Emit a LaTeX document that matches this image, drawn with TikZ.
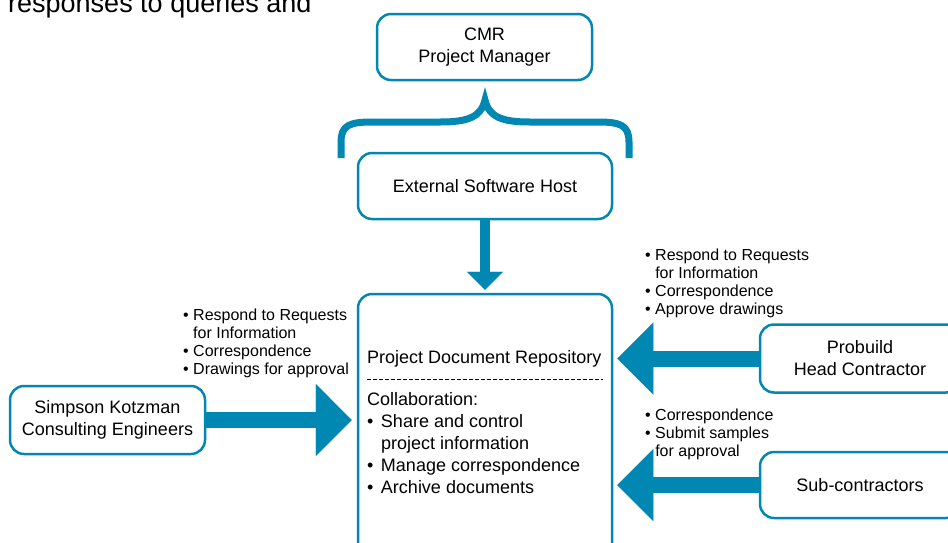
\documentclass[tikz,border=0pt]{standalone}
\usepackage{fontspec}
\setmainfont{Liberation Sans}
\usetikzlibrary{arrows.meta}
\definecolor{repoblue}{HTML}{0088B2}

\begin{document}
\begin{tikzpicture}[x=1pt, y=-1pt,
    party/.style={draw=repoblue, line width=2.5pt, rounded corners=14pt, fill=white,
      align=center, inner sep=0pt, font=\fontsize{18}{22}\selectfont},
    notes/.style={anchor=north west, align=left, inner sep=0pt, font=\fontsize{16}{18}\selectfont},
    flow/.style={draw=repoblue, line width=16pt,
      -{Triangle[length=36pt, width=72pt, line width=0.1pt]}},
    feed/.style={draw=repoblue, line width=10pt,
      -{Triangle[length=18pt, width=36pt, line width=0.1pt]}},
    brace/.style={draw=repoblue, line width=7pt}]
    \useasboundingbox (0,0) rectangle (948,542);
    \node[anchor=base west, inner sep=0pt, font=\fontsize{27}{32}\selectfont] (intro) at (8,12) {responses to queries and};
    \node[party, minimum width=215pt, minimum height=66pt] (cmr) at (484.5,47) {CMR\\Project Manager};
    \draw[brace] (341,158) -- (341,142) .. controls (341,125) and (350,122) .. (372,122)
      -- (440,122) .. controls (468,122) and (481,117) .. (485,100)
      .. controls (489,117) and (502,122) .. (530,122) -- (598,122)
      .. controls (620,122) and (629,125) .. (629,142) -- (629,158);
    \node[party, minimum width=254pt, minimum height=66pt] (esh) at (485,186) {External Software Host};
    \node[party, minimum width=254pt, minimum height=290pt] (pdr) at (485,439) {};
    \node[anchor=base west, inner sep=0pt, font=\fontsize{18}{22}\selectfont] (pdrname) at (367,363) {Project Document Repository};
    \draw[dash pattern=on 4pt off 2pt, line width=0.8pt] (367,379) -- (603,379);
    \node[anchor=north west, align=left, inner sep=0pt, font=\fontsize{18}{22}\selectfont] (collab) at (367,392)
      {Collaboration:\\\textbullet\ \hspace{2.5pt}Share and control\\\phantom{\textbullet\ }\hspace{2.5pt}project information\\\textbullet\ \hspace{2.5pt}Manage correspondence\\\textbullet\ \hspace{2.5pt}Archive documents};
    \node[party, minimum width=195pt, minimum height=68pt] (sk) at (107.5,420) {Simpson Kotzman\\Consulting Engineers};
    \node[party, minimum width=200pt, minimum height=68pt] (pb) at (860,358.5) {Probuild\\Head Contractor};
    \node[party, minimum width=200pt, minimum height=66pt] (sc) at (860,485) {Sub-contractors};
    \node[notes] (sknotes) at (183,309) {\textbullet\ Respond to Requests\\\phantom{\textbullet\ }for Information\\\textbullet\ Correspondence\\\textbullet\ Drawings for approval};
    \node[notes] (pbnotes) at (645,249) {\textbullet\ Respond to Requests\\\phantom{\textbullet\ }for Information\\\textbullet\ Correspondence\\\textbullet\ Approve drawings};
    \node[notes] (scnotes) at (645,409) {\textbullet\ Correspondence\\\textbullet\ Submit samples\\\phantom{\textbullet\ }for approval};
    \draw[feed, shorten >=3pt] (esh.south) -- (pdr.north);
    \draw[flow, shorten >=5pt] (sk.east) -- (sk.east -| pdr.west);
    \draw[flow, shorten >=4pt] (pb.west) -- (pb.west -| pdr.east);
    \draw[flow, shorten >=4pt] (sc.west) -- (sc.west -| pdr.east);
  \end{tikzpicture}
\end{document}
